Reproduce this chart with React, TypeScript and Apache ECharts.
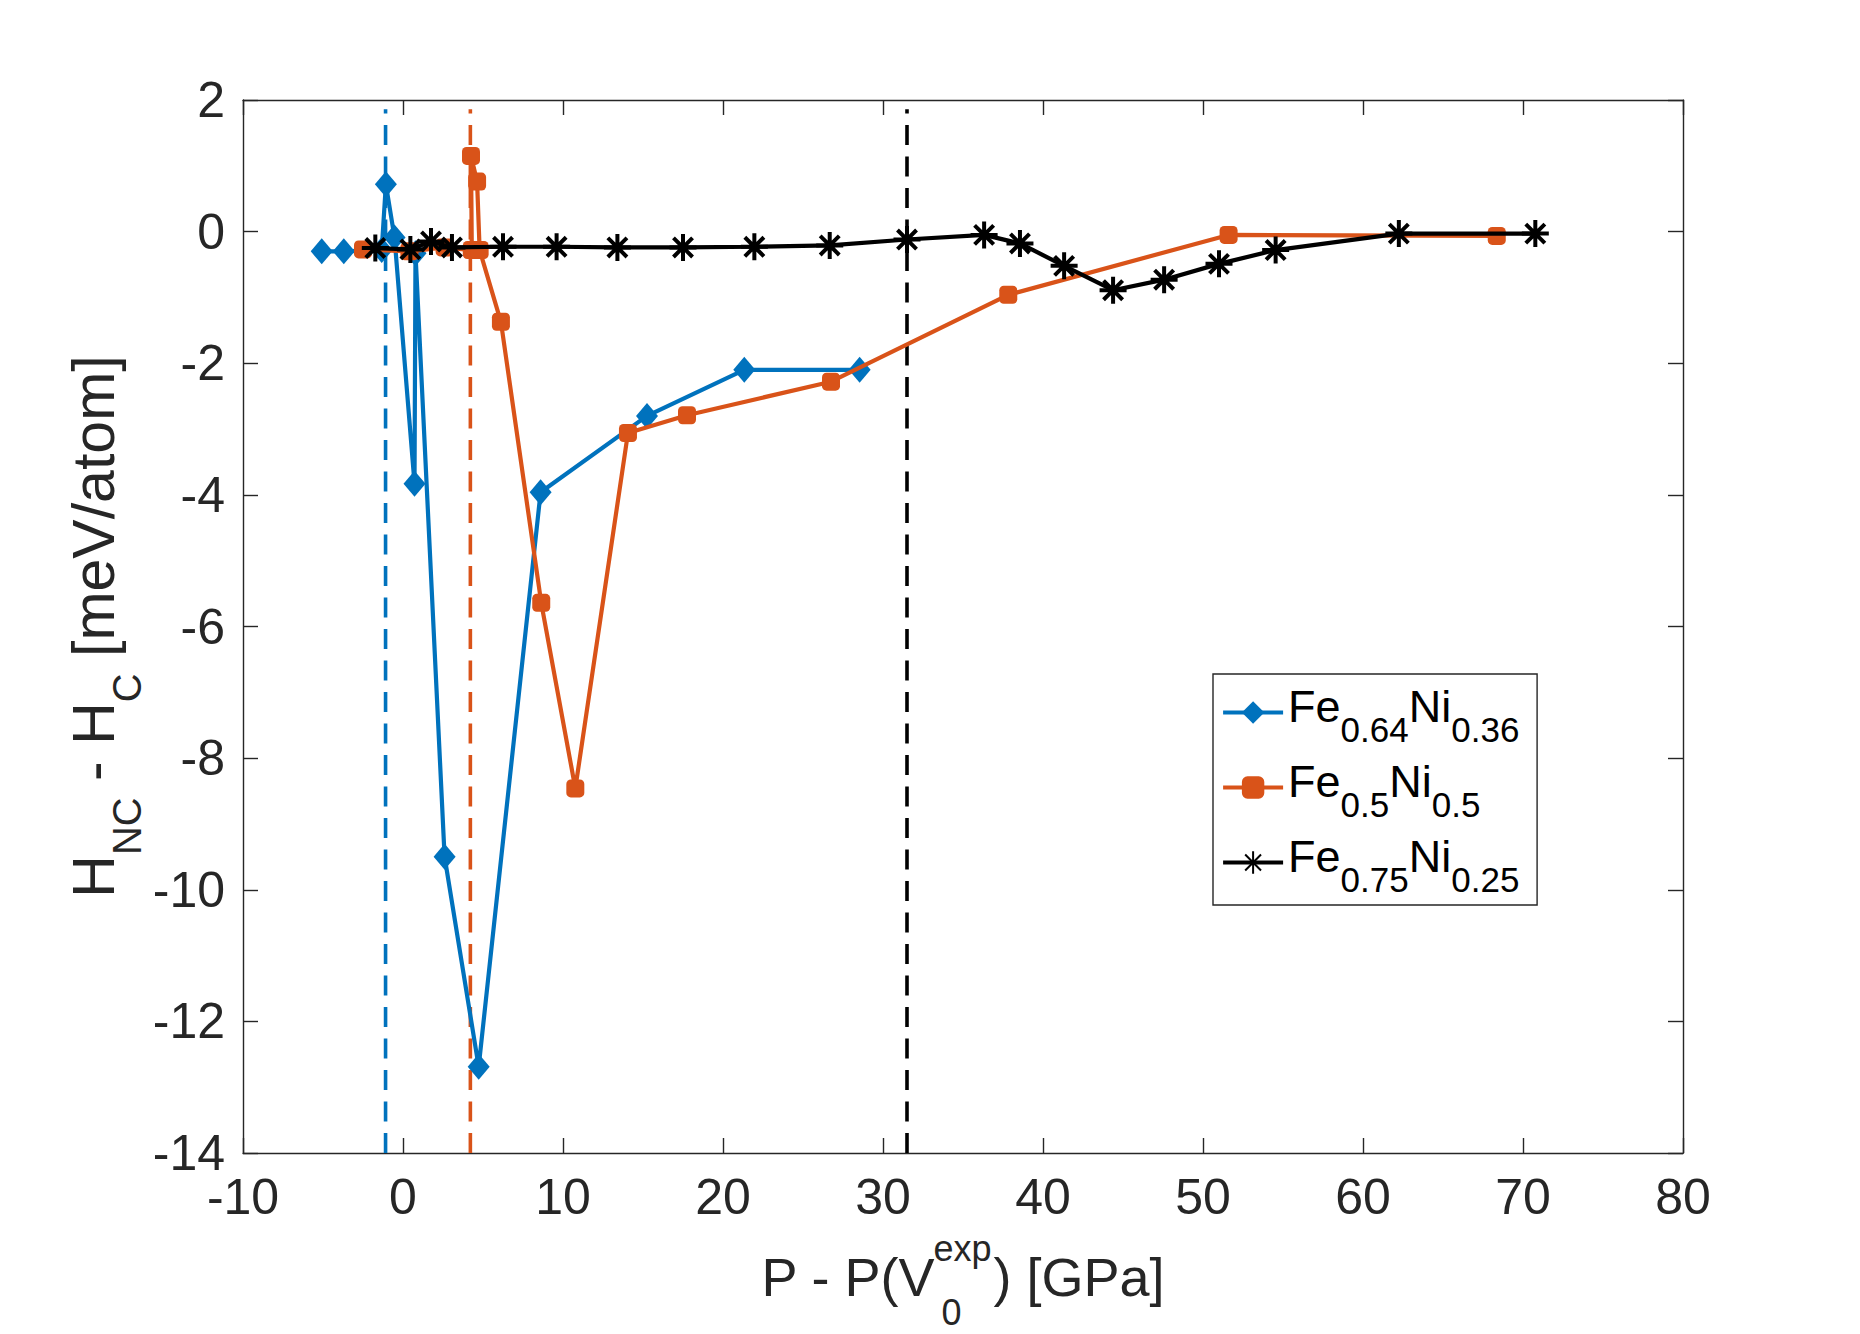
import React, { useEffect, useRef } from "react";
import * as echarts from "echarts";

const FONT = '"Liberation Sans", Arial, Helvetica, sans-serif';
const AXIS_COLOR = "#262626";

// tick labels
const xTicks = [-10, 0, 10, 20, 30, 40, 50, 60, 70, 80];
const yTicks = [-14, -12, -10, -8, -6, -4, -2, 0, 2];

// series names and legend subscripts
const seriesNames = ["Fe0.64Ni0.36", "Fe0.5Ni0.5", "Fe0.75Ni0.25"];
const legendSubs = [
  ["0.64", "0.36"],
  ["0.5", "0.5"],
  ["0.75", "0.25"],
];
const seriesColors = ["#0072BD", "#D95319", "#000000"];

// Fe0.64Ni0.36 (blue diamonds)
const fe64X = [-5.08, -3.7, -1.33, -1.07, -0.53, 0.72, 0.78, 2.6, 4.73, 8.6, 15.25, 21.33, 28.54];
const fe64Y = [-0.3, -0.3, -0.28, 0.72, -0.09, -3.83, -0.33, -9.5, -12.69, -3.96, -2.8, -2.1, -2.1];

// Fe0.5Ni0.5 (orange squares)
const fe50X = [-2.5, 0.4, 2.6, 4.3, 4.25, 4.63, 4.79, 6.12, 8.64, 10.77, 14.06, 17.75, 26.75, 37.83, 51.6, 68.36];
const fe50Y = [-0.27, -0.3, -0.24, -0.28, 1.15, 0.76, -0.28, -1.37, -5.64, -8.46, -3.06, -2.79, -2.28, -0.96, -0.05, -0.065];

// Fe0.75Ni0.25 (black asterisks)
const fe75X = [-1.73, 0.46, 1.75, 3.06, 6.25, 9.6, 13.4, 17.5, 21.96, 26.67, 31.5, 36.32, 38.56, 41.32, 44.38, 47.57, 51.0, 54.54, 62.24, 70.77];
const fe75Y = [-0.25, -0.27, -0.15, -0.24, -0.23, -0.23, -0.24, -0.24, -0.23, -0.21, -0.12, -0.05, -0.18, -0.52, -0.89, -0.73, -0.49, -0.28, -0.03, -0.03];

// vertical dashed reference lines (x positions) and their y extent
const refLineX = [-1.09, 4.21, 31.5];
const refLineY = [-14, 1.86];

const STAR = "path://M0,-10L0,10M-10,0L10,0M-7.07,-7.07L7.07,7.07M-7.07,7.07L7.07,-7.07";

function zip(xs: number[], ys: number[]) {
  return xs.map((x, i) => [x, ys[i]]);
}

let measureCtx: CanvasRenderingContext2D | null = null;
function tw(text: string, size: number) {
  if (!measureCtx) measureCtx = document.createElement("canvas").getContext("2d");
  measureCtx!.font = `${size}px "Liberation Sans"`;
  return measureCtx!.measureText(text).width;
}

function piece(text: string, x: number, baseline: number, size: number, fill: string) {
  return {
    type: "text",
    x,
    y: baseline - 0.3465 * size,
    silent: true,
    style: {
      text,
      fontSize: size,
      fontFamily: FONT,
      fill,
      align: "left",
      verticalAlign: "middle",
    },
  };
}

function buildXTitle(cx: number, baseline: number) {
  const M = 54, S = 36;
  const a = "P - P(V", b = ") [GPa]";
  const wa = tw(a, M), we = tw("exp", S), wb = tw(b, M);
  const W = wa + we + wb;
  const x0 = cx - W / 2;
  return [
    piece(a, x0, baseline, M, AXIS_COLOR),
    piece("exp", x0 + wa - 2, baseline - 35, S, AXIS_COLOR),
    piece("0", x0 + wa + 6, baseline + 29, S, AXIS_COLOR),
    piece(b, x0 + wa + we, baseline, M, AXIS_COLOR),
  ];
}

function buildYTitle() {
  const M = 59, S = 40, SH = 27;
  const parts: [string, boolean][] = [
    ["H", false],
    ["NC", true],
    [" - H", false],
    ["C", true],
    [" [meV/atom]", false],
  ];
  const widths = parts.map(([t, sub]) => tw(t, sub ? S : M));
  const W = widths.reduce((s, v) => s + v, 0);
  let x = -W / 2;
  const children: any[] = [];
  parts.forEach(([t, sub], i) => {
    children.push(piece(t, x, sub ? SH : 0, sub ? S : M, AXIS_COLOR));
    x += widths[i];
  });
  return children;
}

export default function App() {
  const ref = useRef<HTMLDivElement>(null);

  useEffect(() => {
    if (!ref.current) return;
    const chart = echarts.init(ref.current, undefined, { renderer: "svg" });

    const gridLeft = 243, gridRight = 177, gridTop = 100, gridBottom = 181;
    const plotCx = gridLeft + (1860 - gridLeft - gridRight) / 2;
    const plotCy = gridTop + (1334 - gridTop - gridBottom) / 2;

    const LM = 45, LS = 35;
    const textW = Math.max(
      ...legendSubs.map((p) => tw("Fe", LM) + tw(p[0], LS) + tw("Ni", LM) + tw(p[1], LS))
    );
    const legendW = 322;
    const padRight = Math.max(6, legendW - 8 - 60 - 5 - textW);

    const xInterval = xTicks[1] - xTicks[0];
    const yInterval = yTicks[1] - yTicks[0];

    const xAxisBase = {
      type: "value",
      min: xTicks[0],
      max: xTicks[xTicks.length - 1],
      interval: xInterval,
      splitLine: { show: false },
      axisLine: { show: true, onZero: false, lineStyle: { color: AXIS_COLOR, width: 1.4 } },
      axisTick: { show: true, inside: true, length: 15, lineStyle: { color: AXIS_COLOR, width: 1.4 } },
    };
    const yAxisBase = {
      type: "value",
      min: yTicks[0],
      max: yTicks[yTicks.length - 1],
      interval: yInterval,
      splitLine: { show: false },
      axisLine: { show: true, onZero: false, lineStyle: { color: AXIS_COLOR, width: 1.4 } },
      axisTick: { show: true, inside: true, length: 15, lineStyle: { color: AXIS_COLOR, width: 1.4 } },
    };
    const labelStyle = { fontSize: 50, fontFamily: FONT, color: AXIS_COLOR };

    const refSeries = refLineX.map((x, i) => ({
      type: "line",
      name: "ref" + i,
      data: [
        [x, refLineY[0]],
        [x, refLineY[1]],
      ],
      symbol: "none",
      silent: true,
      z: 1,
      lineStyle: { color: seriesColors[i], width: 3.6, type: [20, 11.5] },
    }));

    const dataSeries = [
      {
        type: "line",
        name: seriesNames[0],
        data: zip(fe64X, fe64Y),
        symbol: "diamond",
        symbolSize: [22, 26],
        z: 3,
        lineStyle: { color: seriesColors[0], width: 4.2 },
        itemStyle: { color: seriesColors[0], borderWidth: 0 },
      },
      {
        type: "line",
        name: seriesNames[1],
        data: zip(fe50X, fe50Y),
        symbol: "roundRect",
        symbolSize: 18,
        z: 4,
        lineStyle: { color: seriesColors[1], width: 4.2 },
        itemStyle: { color: seriesColors[1], borderWidth: 0 },
      },
      {
        type: "line",
        name: seriesNames[2],
        data: zip(fe75X, fe75Y),
        symbol: STAR,
        symbolSize: 27,
        z: 5,
        lineStyle: { color: seriesColors[2], width: 4.2 },
        itemStyle: { color: seriesColors[2], borderColor: seriesColors[2], borderWidth: 4 },
      },
    ];

    const option: any = {
      animation: false,
      backgroundColor: "#ffffff",
      textStyle: { fontFamily: FONT },
      grid: {
        left: gridLeft,
        right: gridRight,
        top: gridTop,
        bottom: gridBottom,
        containLabel: false,
        outerBoundsMode: "none",
      },
      xAxis: [
        {
          ...xAxisBase,
          position: "bottom",
          axisLabel: { show: true, margin: 19, ...labelStyle },
        },
        {
          ...xAxisBase,
          position: "top",
          axisLabel: { show: false },
        },
      ],
      yAxis: [
        {
          ...yAxisBase,
          position: "left",
          axisLabel: { show: true, margin: 18, ...labelStyle },
        },
        {
          ...yAxisBase,
          position: "right",
          axisLabel: { show: false },
        },
      ],
      legend: {
        data: seriesNames,
        orient: "vertical",
        left: 1213,
        top: 674,
        itemWidth: 60,
        itemHeight: 28,
        itemGap: 6,
        padding: [4, padRight, 8, 8],
        borderColor: AXIS_COLOR,
        borderWidth: 1.4,
        backgroundColor: "#ffffff",
        selectedMode: false,
        lineStyle: { width: 4.2 },
        formatter: (name: string) => {
          const i = seriesNames.indexOf(name);
          const p = legendSubs[i];
          return `{m|Fe}{s|${p[0]}}{m|Ni}{s|${p[1]}}`;
        },
        textStyle: {
          fontFamily: FONT,
          color: "#000",
          rich: {
            m: { fontSize: LM, fontFamily: FONT, color: "#000", lineHeight: 60, padding: [0, 0, 12, 0] },
            s: { fontSize: LS, fontFamily: FONT, color: "#000", lineHeight: 60, padding: [34, 0, 0, 0] },
          },
        },
      },
      graphic: [
        ...buildXTitle(plotCx, 1296),
        {
          type: "group",
          x: 114,
          y: plotCy,
          rotation: Math.PI / 2,
          silent: true,
          children: buildYTitle(),
        },
      ],
      series: [...refSeries, ...dataSeries],
    };

    chart.setOption(option);
    return () => {
      chart.dispose();
    };
  }, []);

  return (
    <div
      ref={ref}
      style={{ position: "absolute", left: 0, top: 0, width: 1860, height: 1334, background: "#fff" }}
    />
  );
}
